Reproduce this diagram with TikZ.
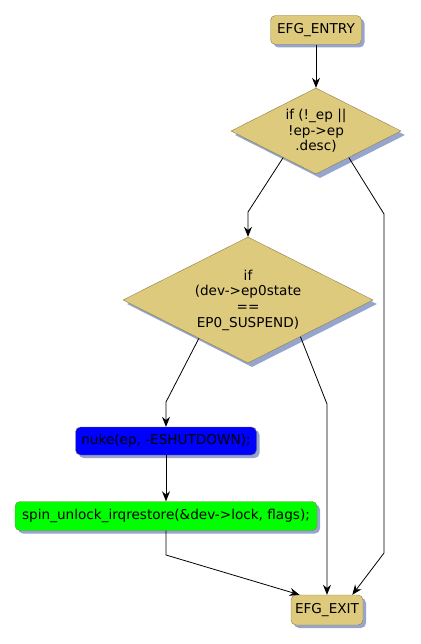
\documentclass[tikz,border=0pt]{standalone}
\usepackage{fontspec}
\setmainfont{DejaVu Sans}
\usetikzlibrary{shapes.geometric,arrows.meta,shadows}

\definecolor{khaki}{RGB}{222,202,125}
\definecolor{khakiline}{RGB}{140,125,75}
\definecolor{shadowblue}{RGB}{150,165,205}

\begin{document}
\begin{tikzpicture}[x=1pt, y=-1pt,
    box/.style={draw=khakiline, rounded corners=5pt, inner xsep=2pt, inner ysep=0pt,
                minimum height=29pt, font=\fontsize{13.6}{15.7}\selectfont,
                drop shadow={shadow xshift=3pt, shadow yshift=-3pt, fill=shadowblue, opacity=1}},
    decision/.style={diamond, shape aspect=2, draw=khakiline, fill=khaki, inner sep=0pt,
                align=center, font=\fontsize{13.6}{15.7}\selectfont,
                drop shadow={shadow xshift=4pt, shadow yshift=-4pt, fill=shadowblue, opacity=1}},
    arrow/.style={-{Stealth[length=10pt, width=8pt]}, line width=0.8pt}
]
\useasboundingbox (0,0) rectangle (420,644);

% Start and end
\node[box, fill=khaki, minimum width=91pt] (entry) at (316,30) {EFG\_ENTRY};
\node[box, fill=khaki, minimum width=72pt, minimum height=30pt] (exit) at (327,610) {EFG\_EXIT};

% Tests
\node[decision, minimum width=170pt, minimum height=86pt] (cond1) at (316,131)
    {if (!\_ep ||\\!ep->ep\\.desc)};
\node[decision, minimum width=250pt, minimum height=126pt] (cond2) at (248,300)
    {if\\(dev->ep0state\\==\\EP0\_SUSPEND)};

% Statements
\node[box, fill=blue, minimum width=181pt, minimum height=28pt] (nuke) at (166,441)
    {nuke(ep, -ESHUTDOWN);};
\node[box, fill=green, minimum width=302pt] (unlock) at (166,516)
    {spin\_unlock\_irqrestore(\&dev->lock, flags);};

% Bend points
\coordinate (c1l) at (248,212);
\coordinate (c1r) at (384,214);
\coordinate (c1rb) at (384,553);
\coordinate (c2l) at (166,402);
\coordinate (c2r) at (327,404);
\coordinate (ulb) at (166,555);

% Connectors
\draw[arrow] (entry) -- (cond1);
\draw[arrow] (cond1.219) -- (c1l) -- (cond2);
\draw[arrow] (cond1.321) -- (c1r) -- (c1rb) -- (exit.31);
\draw[arrow] (cond2.218) -- (c2l) -- (nuke);
\draw[arrow] (cond2.325) -- (c2r) -- (exit);
\draw[arrow] (nuke) -- (unlock);
\draw[arrow] (unlock) -- (ulb) -- (exit.151);

\end{tikzpicture}
\end{document}
